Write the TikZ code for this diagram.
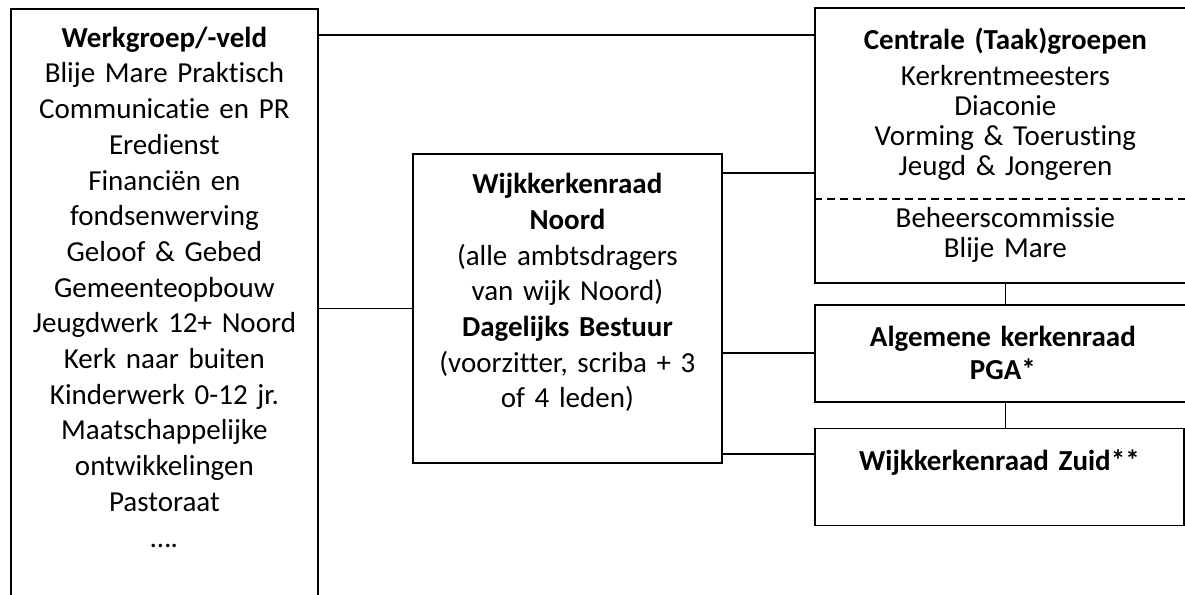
\documentclass[tikz,border=0pt]{standalone}
\usepackage{fontspec}
\setmainfont{Carlito}[Ligatures=NoCommon]
\usetikzlibrary{positioning}

\begin{document}
\begin{tikzpicture}[
    x=1pt, y=-1pt,
    node distance=20pt,
    kader/.style={draw, line width=1.8pt, align=center, inner xsep=5pt, inner ysep=18pt, font=\fontsize{29}{35.7}\selectfont},
    smal/.style={kader, inner ysep=0pt, font=\fontsize{29}{33}\selectfont},
    lijn/.style={line width=1.5pt}
]
    \useasboundingbox (0,0) rectangle (1185,594);
    \clip (0,0) rectangle (1185,594);

    \node[kader, anchor=north west, text width=297pt] (werk) at (10,8) {\textbf{Werkgroep/-veld}\\Blije Mare Praktisch\\Communicatie en PR\\Eredienst\\Financiën en\\fondsenwerving\\Geloof \& Gebed\\Gemeenteopbouw\\Jeugdwerk 12+ Noord\\Kerk naar buiten\\Kinderwerk 0-12 jr.\\Maatschappelijke\\ontwikkelingen\\Pastoraat\\….\\\mbox{}\\\mbox{}};
    \node[kader, anchor=north west, text width=299pt, minimum height=309pt] (wkr) at (412,153) {\textbf{Wijkkerkenraad}\\\textbf{Noord}\\(alle ambtsdragers\\van wijk Noord)\\\textbf{Dagelijks Bestuur}\\(voorzitter, scriba + 3\\of 4 leden)\\\mbox{}};
    \node[kader, anchor=north west, text width=371pt, minimum height=275pt, inner ysep=0pt, font=\fontsize{29}{30}\selectfont] (centr) at (814,7) {\textbf{Centrale (Taak)groepen}\\[6pt]Kerkrentmeesters\\Diaconie\\Vorming \& Toerusting\\Jeugd \& Jongeren\\[22pt]Beheerscommissie\\Blije Mare};
    \node[smal, below=20pt of centr.south west, anchor=north west, text width=366pt, minimum height=97pt] (akr) {\textbf{Algemene kerkenraad}\\\textbf{PGA*}};
    \node[smal, below=25pt of akr.south west, anchor=north west, text width=359pt, minimum height=97pt] (zuid) {\textbf{Wijkkerkenraad Zuid**}\\\mbox{}};

    % stippellijn in centrale groepen
    \draw[line width=1.3pt, dash pattern=on 8pt off 5pt] ([yshift=-192pt]centr.north west) -- ([yshift=-192pt]centr.north east);

    \draw[lijn] ([yshift=-27pt]werk.north east) -- ([yshift=-27pt]werk.north east -| centr.west);
    \draw[lijn] (wkr.west) -- (wkr.west -| werk.east);
    \draw[lijn] ([yshift=-20pt]wkr.north east) -- ([yshift=-20pt]wkr.north east -| centr.west);
    \draw[lijn] (akr.west) -- (akr.west -| wkr.east);
    \draw[lijn] ([yshift=10pt]wkr.south east) -- ([yshift=10pt]wkr.south east -| zuid.west);
    \draw[lijn] (centr.south) -- (centr.south |- akr.north);
    \draw[lijn] (centr.south |- akr.south) -- (centr.south |- zuid.north);
\end{tikzpicture}
\end{document}
